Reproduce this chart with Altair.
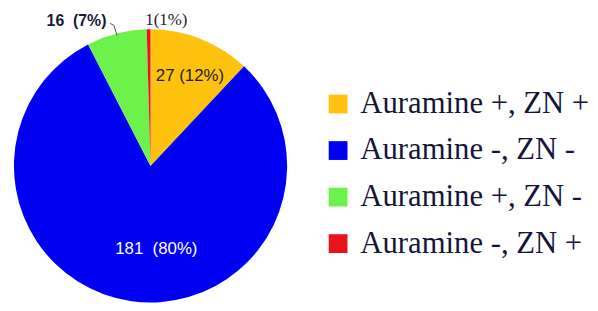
import altair as alt
import pandas as pd

categories = ["Auramine +, ZN +", "Auramine -, ZN -", "Auramine +, ZN -", "Auramine -, ZN +"]
counts = [27, 181, 16, 1]
labels = ["27\u00a0(12%)", "181\u00a0\u00a0(80%)", "16\u00a0\u00a0(7%)", "1(1%)"]
colors = ["#FFC20E", "#0000F2", "#6CF24A", "#E8141A"]

total = sum(counts)
df = pd.DataFrame({"cat": categories, "count": counts, "label": labels, "idx": list(range(len(counts)))})

CX, CY, R = 144, 158, 138

base = alt.Chart(df)

arcs = base.mark_arc(outerRadius=R, strokeWidth=0).encode(
    theta=alt.Theta("count:Q", stack=True, scale=alt.Scale(domain=[0, total])),
    color=alt.Color(
        "cat:N",
        scale=alt.Scale(domain=categories, range=colors),
        sort=categories,
        legend=alt.Legend(
            title=None,
            orient="none",
            legendX=318,
            legendY=80,
            symbolType="square",
            symbolSize=360,
            symbolStrokeWidth=0,
            labelFont="Liberation Serif",
            labelFontSize=31,
            labelColor="#15153a",
            labelLimit=400,
            rowPadding=15,
            padding=0,
            labelOffset=7,
        ),
    ),
    order=alt.Order("idx:Q"),
    x=alt.value(CX),
    y=alt.value(CY),
)

lab = base.transform_window(
    cum="sum(count)", sort=[alt.SortField("idx")]
).transform_calculate(mid="datum.cum - datum.count / 2")


def label_layer(i, radius, dx, dy, color, font, size, weight="normal"):
    return lab.transform_filter(alt.datum.idx == i).mark_text(
        radius=radius, dx=dx, dy=dy, color=color, font=font, fontSize=size, fontWeight=weight
    ).encode(
        theta=alt.Theta("mid:Q", stack=None, scale=alt.Scale(domain=[0, total])),
        text="label:N",
        x=alt.value(CX),
        y=alt.value(CY),
    )


t0 = label_layer(0, 100, 3, 2, "#1a1a1a", "Liberation Sans", 17)
t1 = label_layer(1, 80, 17, 5, "white", "Liberation Sans", 17)
t2 = label_layer(2, 160, -35, 9, "#1a1a3a", "Liberation Sans", 16, "bold")
t3 = label_layer(3, 152, 18, 5, "#1a1a3a", "Liberation Serif", 17)

leader = alt.Chart(pd.DataFrame({"x": [103, 107, 110], "y": [14, 16, 26]})).mark_line(
    color="#555", strokeWidth=1
).encode(x=alt.X("x:Q", scale=None), y=alt.Y("y:Q", scale=None))

chart = alt.layer(arcs, t0, t1, t2, t3, leader).resolve_scale(theta="independent").properties(
    width=582, height=295, padding=0
).configure_view(stroke=None)

chart.save("out.html", embed_options={"renderer": "svg", "actions": False})
